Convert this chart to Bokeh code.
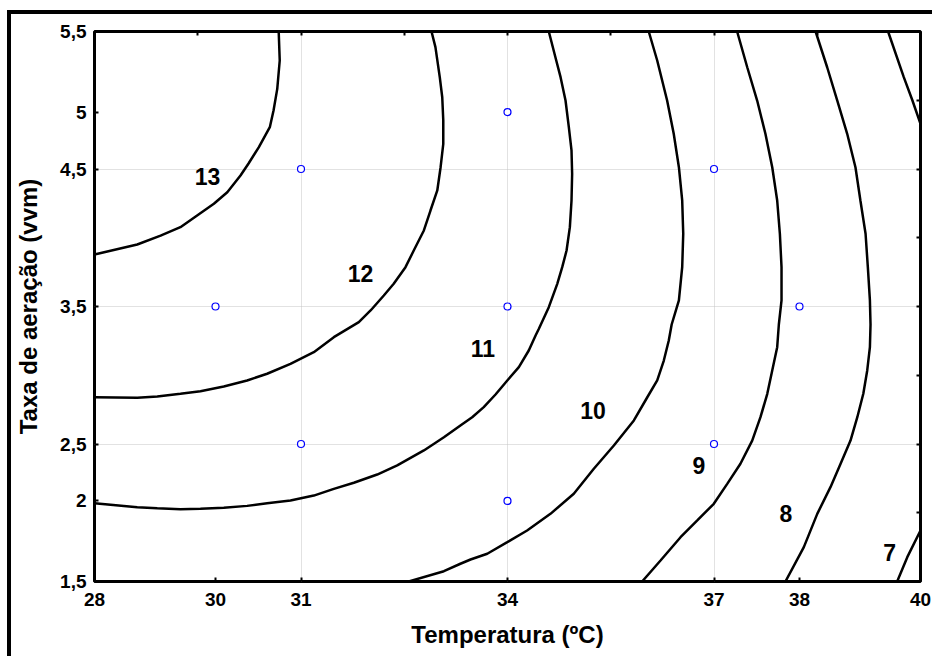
from bokeh.plotting import figure
from bokeh.models import FixedTicker, LinearAxis, Range1d
from bokeh.embed import file_html
from bokeh.resources import INLINE
from bokeh.core.properties import value

# Axes are in coded units (-2..2); tick labels are the real design levels
x_tick_pos = [-2.0, -1.414, -1.0, 0.0, 1.0, 1.414, 2.0]
x_tick_labels = ["28", "30", "31", "34", "37", "38", "40"]
y_tick_pos = [-2.0, -1.414, -1.0, 0.0, 1.0, 1.414, 2.0]
y_tick_labels = ["1,5", "2", "2,5", "3,5", "4,5", "5", "5,5"]
grid_pos = [-1.0, 0.0, 1.0]
minor_pos = [-1.5, -1.0, -0.5, 0.0, 0.5, 1.0, 1.5]

# Experimental design points (coded)
design_x = [-1.414, -1, -1, 0, 0, 0, 1, 1, 1.414]
design_y = [0, 1, -1, 1.414, 0, -1.414, 1, -1, 0]

# Contour lines (coded units)
c13_x = [-1.108, -1.103, -1.115, -1.133, -1.151, -1.204, -1.254, -1.293, -1.357, -1.422, -1.503, -1.584, -1.680, -1.793, -2.0]
c13_y = [2.0, 1.789, 1.583, 1.425, 1.304, 1.159, 1.040, 0.953, 0.831, 0.747, 0.662, 0.577, 0.516, 0.451, 0.378]

c12_x = [-0.368, -0.349, -0.328, -0.316, -0.311, -0.311, -0.324, -0.340, -0.373, -0.405, -0.454, -0.494, -0.551, -0.599, -0.663, -0.720, -0.841, -0.938, -1.051, -1.164, -1.261, -1.374, -1.487, -1.584, -1.696, -1.793, -2.0]
c12_y = [2.0, 1.886, 1.668, 1.522, 1.353, 1.183, 1.013, 0.844, 0.698, 0.553, 0.407, 0.286, 0.165, 0.080, -0.029, -0.114, -0.223, -0.332, -0.417, -0.489, -0.538, -0.582, -0.616, -0.635, -0.655, -0.664, -0.660]

c11_x = [0.200, 0.232, 0.257, 0.281, 0.297, 0.310, 0.313, 0.310, 0.302, 0.286, 0.265, 0.241, 0.200, 0.152, 0.136, 0.103, 0.055, -0.001, -0.058, -0.115, -0.171, -0.228, -0.308, -0.405, -0.534, -0.631, -0.744, -0.841, -0.938, -1.051, -1.164, -1.261, -1.374, -1.487, -1.584, -1.696, -1.793, -2.0]
c11_y = [2.0, 1.813, 1.668, 1.498, 1.304, 1.135, 0.965, 0.771, 0.577, 0.407, 0.286, 0.165, -0.005, -0.162, -0.211, -0.320, -0.441, -0.538, -0.640, -0.732, -0.805, -0.865, -0.951, -1.047, -1.156, -1.222, -1.282, -1.326, -1.375, -1.411, -1.431, -1.450, -1.464, -1.471, -1.474, -1.467, -1.460, -1.431]

c10_x = [0.684, 0.725, 0.773, 0.805, 0.830, 0.846, 0.851, 0.846, 0.830, 0.795, 0.781, 0.757, 0.725, 0.677, 0.612, 0.515, 0.418, 0.321, 0.208, 0.095, -0.001, -0.098, -0.179, -0.228, -0.308, -0.478]
c10_y = [2.0, 1.789, 1.498, 1.256, 1.013, 0.771, 0.529, 0.286, 0.044, -0.131, -0.247, -0.393, -0.538, -0.660, -0.829, -1.011, -1.180, -1.362, -1.508, -1.629, -1.714, -1.798, -1.840, -1.871, -1.925, -2.0]

c9_x = [1.112, 1.161, 1.209, 1.249, 1.282, 1.306, 1.319, 1.327, 1.327, 1.314, 1.306, 1.282, 1.258, 1.225, 1.185, 1.128, 1.064, 0.999, 0.919, 0.838, 0.741, 0.652]
c9_y = [2.0, 1.740, 1.498, 1.256, 1.013, 0.771, 0.529, 0.286, 0.044, -0.131, -0.296, -0.465, -0.635, -0.805, -0.975, -1.144, -1.290, -1.435, -1.556, -1.678, -1.847, -2.0]

c8_x = [1.492, 1.548, 1.597, 1.645, 1.685, 1.709, 1.734, 1.745, 1.755, 1.758, 1.755, 1.742, 1.723, 1.694, 1.661, 1.613, 1.564, 1.500, 1.435, 1.346]
c8_y = [2.0, 1.740, 1.498, 1.256, 1.013, 0.771, 0.529, 0.286, 0.044, -0.131, -0.296, -0.465, -0.635, -0.805, -0.975, -1.144, -1.314, -1.508, -1.750, -2.0]

c7a_x = [1.843, 1.919, 1.961, 2.0]
c7a_y = [2.0, 1.668, 1.498, 1.329]
c7b_x = [2.0, 1.936, 1.887]
c7b_y = [-1.629, -1.823, -2.0]

contour_xs = [c13_x, c12_x, c11_x, c10_x, c9_x, c8_x, c7a_x, c7b_x]
contour_ys = [c13_y, c12_y, c11_y, c10_y, c9_y, c8_y, c7a_y, c7b_y]

# Contour labels
label_text = ["13", "12", "11", "10", "9", "8", "7"]
label_x = [-1.453, -0.712, -0.119, 0.414, 0.927, 1.348, 1.850]
label_y = [0.945, 0.240, -0.305, -0.756, -1.156, -1.505, -1.789]

FONT = "Liberation Sans"

p = figure(frame_width=826, frame_height=550,
           x_range=Range1d(-2, 2), y_range=Range1d(-2, 2),
           output_backend="svg", toolbar_location=None,
           min_border_left=83, min_border_top=17,
           min_border_right=12, min_border_bottom=75)

p.background_fill_color = "white"
p.border_fill_color = "white"
p.outline_line_color = "black"
p.outline_line_width = 3

# grid
p.xgrid.ticker = FixedTicker(ticks=grid_pos)
p.ygrid.ticker = FixedTicker(ticks=grid_pos)
for g in (p.xgrid, p.ygrid):
    g.grid_line_color = "#c4c4c4"
    g.grid_line_dash = "1 1"
    g.grid_line_width = 1

xa = p.xaxis[0]
xa.ticker = FixedTicker(ticks=x_tick_pos)
xa.major_label_overrides = {k: v for k, v in zip(x_tick_pos, x_tick_labels)}
xa.axis_label = "Temperatura (ºC)"
ya = p.yaxis[0]
ya.ticker = FixedTicker(ticks=y_tick_pos)
ya.major_label_overrides = {k: v for k, v in zip(y_tick_pos, y_tick_labels)}
ya.axis_label = "Taxa de aeração (vvm)"

for ax in (xa, ya):
    ax.axis_line_color = None
    ax.major_tick_in = 4
    ax.major_tick_out = 0
    ax.major_tick_line_width = 2
    ax.minor_tick_line_color = None
    ax.major_label_text_font = FONT
    ax.major_label_text_font_style = "bold"
    ax.major_label_text_font_size = "19px"
    ax.major_label_text_color = "black"
    ax.axis_label_text_font = FONT
    ax.axis_label_text_font_style = "bold"
    ax.axis_label_text_font_size = "24px"
    ax.axis_label_text_color = "black"
xa.major_label_standoff = 11
xa.axis_label_standoff = 12
ya.major_label_standoff = 8
ya.axis_label_standoff = 15

for loc in ("above", "right"):
    ax = LinearAxis(ticker=FixedTicker(ticks=minor_pos))
    ax.axis_line_color = None
    ax.major_tick_in = 4
    ax.major_tick_out = 0
    ax.major_tick_line_width = 2
    ax.minor_tick_line_color = None
    ax.major_label_text_color = None
    ax.major_label_text_font_size = "1px"
    ax.major_label_standoff = 0
    p.add_layout(ax, loc)

# contours
p.multi_line(xs=contour_xs, ys=contour_ys, line_color="black", line_width=2.5)

# design points
p.scatter(design_x, design_y, size=7, marker="circle",
          line_color="#0000ff", fill_color="white", line_width=1.2)

# contour labels
p.text(x=label_x, y=label_y, text=label_text,
       text_font=value(FONT), text_font_style="bold", text_font_size="23px",
       text_align="center", text_baseline="middle", text_color="black")

p.styles = {"border-top": "4px solid black", "border-left": "4px solid black",
            "margin-top": "10px", "margin-left": "7px"}

open("out.html", "w").write(file_html(p, INLINE))
